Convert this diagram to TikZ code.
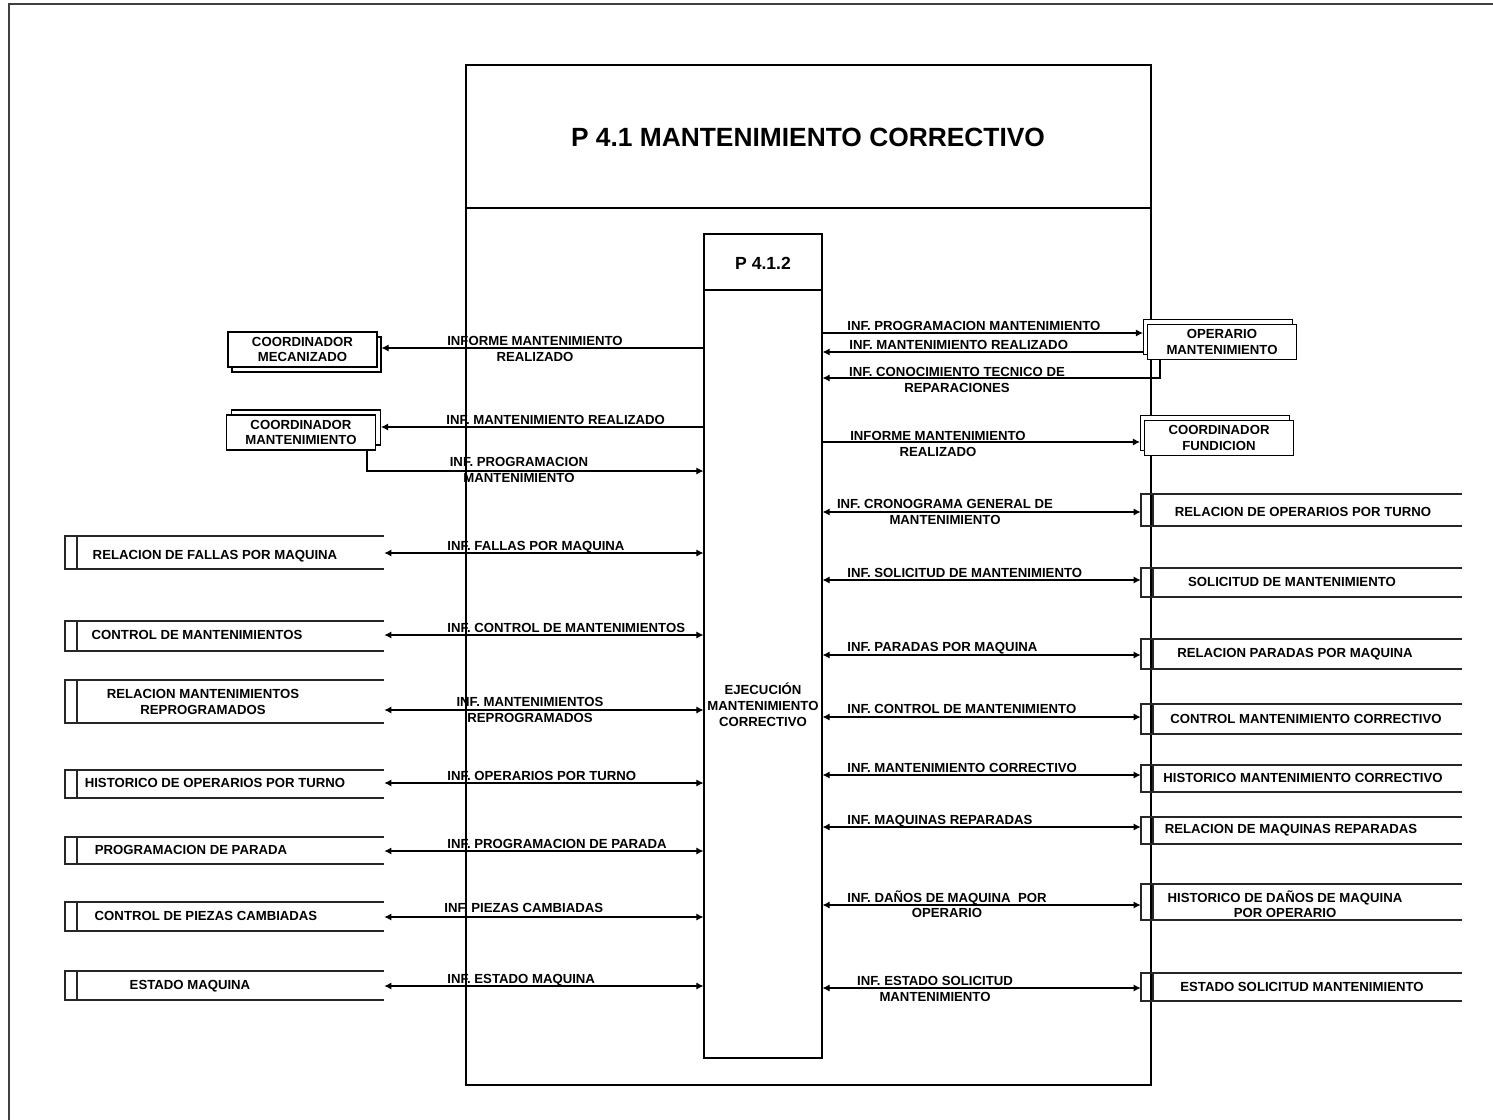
\documentclass[tikz,border=0pt]{standalone}
\usepackage{fontspec}
\setmainfont{Liberation Sans}
\usetikzlibrary{arrows.meta,fit}

\tikzset{
  txt/.style={font=\fontsize{7.5}{8.6}\selectfont\bfseries, inner sep=0pt, align=center},
  flowlbl/.style={txt, anchor=base west},
  flow/.style={line width=0.6pt, -{Latex[length=4pt,width=4pt]}},
  bif/.style={line width=0.6pt, {Latex[length=4pt,width=4pt]}-{Latex[length=4pt,width=4pt]}},
  boxline/.style={line width=0.6pt},
  storeline/.style={line width=0.6pt, black!85},
  entity/.style={draw, line width=0.6pt, fill=white, minimum width=2.98cm, minimum height=0.7cm,
    inner sep=0pt, align=center, font=\fontsize{7.5}{8.6}\selectfont\bfseries},
  entback/.style={draw, line width=0.6pt, fill=white, minimum width=2.98cm, minimum height=0.7cm, inner sep=0pt},
  area/.style={inner sep=0pt},
}

% external entity: front box with a second box behind it
% #1 name, #2 #3 centre, #4 #5 offset of the rear box, #6 text
\newcommand\ExtEntity[6]{%
  \node[entback] (#1b) at ({#2+(#4)},{#3+(#5)}) {};
  \node[entity] (#1) at (#2,#3) {#6};
}
% data store open to the right: #1 name, #2 x1, #3 y1, #4 x2, #5 y2, #6 text x, #7 text y, #8 text
\newcommand\StoreL[8]{%
  \node[area, fit={(#2,#3)(#4,#5)}] (#1) {};
  \draw[storeline] (#4,#3) -- (#2,#3) -- (#2,#5) -- (#4,#5);
  \draw[storeline] ({#2+12},#3) -- ({#2+12},#5);
  \node[txt] at (#6,#7) {#8};
}

\begin{document}
\begin{tikzpicture}[x=0.02cm,y=-0.02cm]
\useasboundingbox (0,0) rectangle (1493,1119);

% page frame
\draw[line width=1.1pt, black!75] (9,1130) -- (9,4) -- (1500,4);

% process P 4.1
\node[area, draw, line width=1.6pt, fit={(466,65)(1151,1085)}] (main) {};
\draw[line width=1.6pt] (main.west |- 0,208) -- (main.east |- 0,208);
\node[font=\fontsize{15}{18}\selectfont\bfseries] (mtitle) at (808,137) {P 4.1 MANTENIMIENTO CORRECTIVO};

% sub-process P 4.1.2
\node[area, draw, boxline, fill=white, fit={(704,234)(822,1058)}] (proc) {};
\draw[boxline] (proc.west |- 0,290) -- (proc.east |- 0,290);
\node[font=\fontsize{10}{12}\selectfont\bfseries] (ptitle) at (763,263) {P 4.1.2};
\node[txt, font=\fontsize{7.5}{9.2}\selectfont\bfseries] (pbody) at (763,705) {EJECUCIÓN\\MANTENIMIENTO\\CORRECTIVO};

% external entities
\ExtEntity{mec}{302.5}{349.5}{4}{5}{COORDINADOR\\MECANIZADO}
\ExtEntity{cmant}{301}{432.5}{5}{-5}{COORDINADOR\\MANTENIMIENTO}
\ExtEntity{oper}{1222}{342}{-4}{-5}{OPERARIO\\MANTENIMIENTO}
\ExtEntity{fund}{1219}{438}{-4}{-5}{COORDINADOR\\FUNDICION}

% data stores, left side
\StoreL{sl1}{65}{536}{384}{569}{215}{556}{RELACION DE FALLAS POR MAQUINA}
\StoreL{sl2}{65}{621}{384}{651}{197}{635}{CONTROL DE MANTENIMIENTOS}
\StoreL{sl3}{65}{680}{384}{723}{203}{702}{RELACION MANTENIMIENTOS\\REPROGRAMADOS}
\StoreL{sl4}{65}{770}{384}{798}{215}{783}{HISTORICO DE OPERARIOS POR TURNO}
\StoreL{sl5}{65}{837}{384}{864}{191}{850}{PROGRAMACION DE PARADA}
\StoreL{sl6}{65}{902}{384}{931}{206}{916}{CONTROL DE PIEZAS CAMBIADAS}
\StoreL{sl7}{65}{971}{384}{1000}{190}{986}{ESTADO MAQUINA}

% data stores, right side
\StoreL{sr1}{1141}{494}{1462}{526}{1303}{512}{RELACION DE OPERARIOS POR TURNO}
\StoreL{sr2}{1141}{568}{1462}{597}{1292}{582}{SOLICITUD DE MANTENIMIENTO}
\StoreL{sr3}{1141}{639}{1462}{669}{1295}{654}{RELACION PARADAS POR MAQUINA}
\StoreL{sr4}{1141}{704}{1462}{734}{1306}{719}{CONTROL MANTENIMIENTO CORRECTIVO}
\StoreL{sr5}{1141}{765}{1462}{792}{1303}{778}{HISTORICO MANTENIMIENTO CORRECTIVO}
\StoreL{sr6}{1141}{817}{1462}{844}{1291}{830}{RELACION DE MAQUINAS REPARADAS}
\StoreL{sr7}{1141}{884}{1462}{920}{1285}{904}{HISTORICO DE DAÑOS DE MAQUINA\\POR OPERARIO}
\StoreL{sr8}{1141}{973}{1462}{1001}{1302}{987}{ESTADO SOLICITUD MANTENIMIENTO}

% flows with the external entities
\draw[flow] (proc.west |- 0,348) -- (mecb.east |- 0,348);
\node[txt] at (535,349) {INFORME MANTENIMIENTO\\REALIZADO};
\draw[flow] (proc.west |- 0,427) -- (cmantb.east |- 0,427);
\node[flowlbl] at (446,424) {INF. MANTENIMIENTO REALIZADO};
\draw[flow] ([xshift=-0.18cm]cmant.south east) |- (proc.west |- 0,471);
\node[txt] at (519,470) {INF. PROGRAMACION\\MANTENIMIENTO};

\draw[flow] (proc.east |- 0,333) -- (operb.west |- 0,333);
\node[flowlbl] at (847,330) {INF. PROGRAMACION MANTENIMIENTO};
\draw[flow] (operb.west |- 0,352) -- (proc.east |- 0,352);
\node[flowlbl] at (849,349) {INF. MANTENIMIENTO REALIZADO};
\draw[flow] ([xshift=0.26cm]oper.south west) |- (proc.east |- 0,378);
\node[txt] at (957,380) {INF. CONOCIMIENTO TECNICO DE\\REPARACIONES};
\draw[flow] (proc.east |- 0,442) -- (fundb.west |- 0,442);
\node[txt] at (938,444) {INFORME MANTENIMIENTO\\REALIZADO};

% flows with the left data stores
\draw[bif] (sl1.east |- 0,553) -- (proc.west |- 0,553);
\node[flowlbl] at (447,550) {INF. FALLAS POR MAQUINA};
\draw[bif] (sl2.east |- 0,635) -- (proc.west |- 0,635);
\node[flowlbl] at (447,632) {INF. CONTROL DE MANTENIMIENTOS};
\draw[bif] (sl3.east |- 0,710) -- (proc.west |- 0,710);
\node[txt] at (530,710) {INF. MANTENIMIENTOS\\REPROGRAMADOS};
\draw[bif] (sl4.east |- 0,783) -- (proc.west |- 0,783);
\node[flowlbl] at (447,780) {INF. OPERARIOS POR TURNO};
\draw[bif] (sl5.east |- 0,851) -- (proc.west |- 0,851);
\node[flowlbl] at (447,848) {INF. PROGRAMACION DE PARADA};
\draw[bif] (sl6.east |- 0,917) -- (proc.west |- 0,917);
\node[flowlbl] at (444,912) {INF. PIEZAS CAMBIADAS};
\draw[bif] (sl7.east |- 0,986) -- (proc.west |- 0,986);
\node[flowlbl] at (447,983) {INF. ESTADO MAQUINA};

% flows with the right data stores
\draw[bif] (proc.east |- 0,512) -- (sr1.west |- 0,512);
\node[txt] at (945,512) {INF. CRONOGRAMA GENERAL DE\\MANTENIMIENTO};
\draw[bif] (proc.east |- 0,580) -- (sr2.west |- 0,580);
\node[flowlbl] at (847,577) {INF. SOLICITUD DE MANTENIMIENTO};
\draw[bif] (proc.east |- 0,655) -- (sr3.west |- 0,655);
\node[flowlbl] at (847,651) {INF. PARADAS POR MAQUINA};
\draw[bif] (proc.east |- 0,717) -- (sr4.west |- 0,717);
\node[flowlbl] at (847,713) {INF. CONTROL DE MANTENIMIENTO};
\draw[bif] (proc.east |- 0,775) -- (sr5.west |- 0,775);
\node[flowlbl] at (847,772) {INF. MANTENIMIENTO CORRECTIVO};
\draw[bif] (proc.east |- 0,827) -- (sr6.west |- 0,827);
\node[flowlbl] at (847,824) {INF. MAQUINAS REPARADAS};
\draw[bif] (proc.east |- 0,905) -- (sr7.west |- 0,905);
\node[txt] at (947,904) {INF. DAÑOS DE MAQUINA\ \ POR\\OPERARIO};
\draw[bif] (proc.east |- 0,988) -- (sr8.west |- 0,988);
\node[txt] at (935,989) {INF. ESTADO SOLICITUD\\MANTENIMIENTO};
\end{tikzpicture}
\end{document}
